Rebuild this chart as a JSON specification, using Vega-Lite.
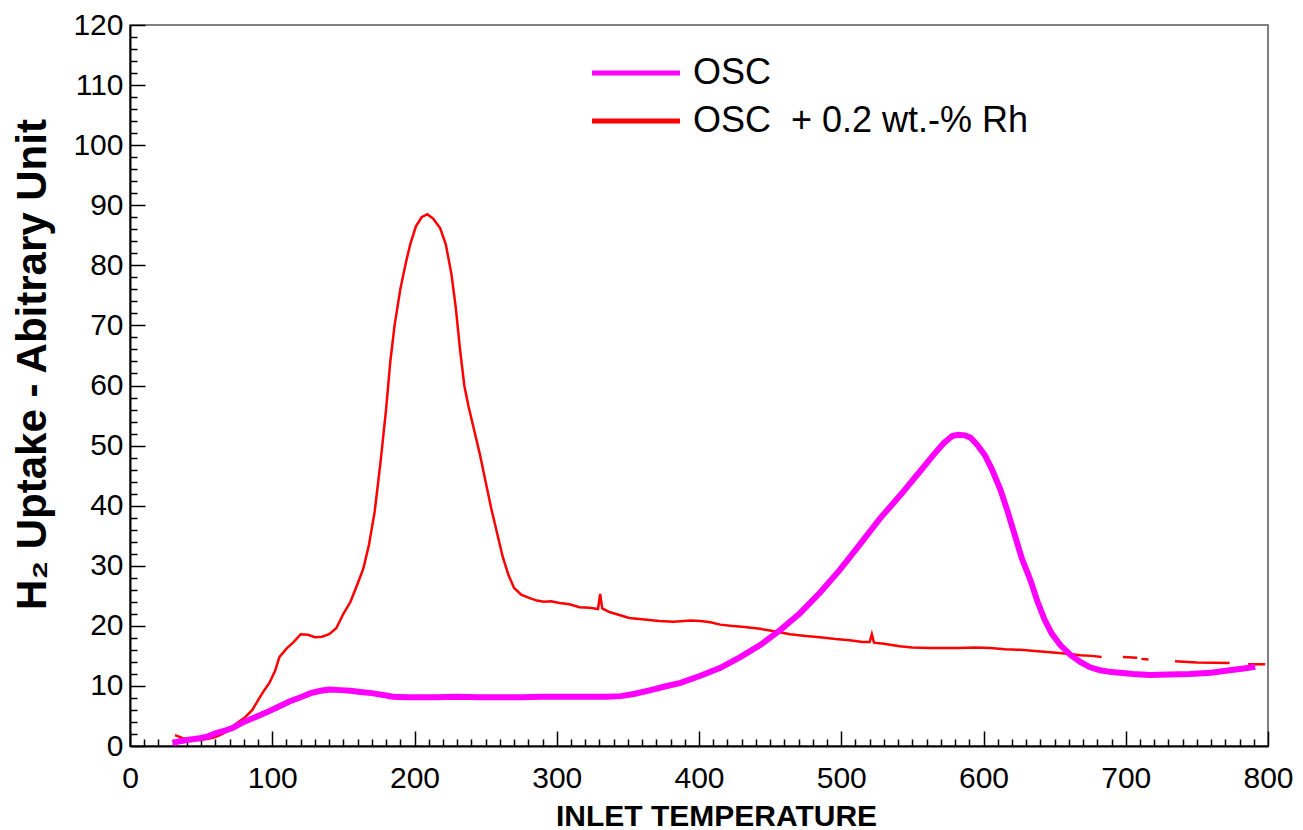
{
  "$schema": "https://vega.github.io/schema/vega-lite/v6.json",
  "autosize": "none",
  "width": 1138,
  "height": 721,
  "padding": {"left": 130, "top": 25, "right": 35, "bottom": 84},
  "background": "white",
  "config": {
    "font": "Liberation Sans",
    "view": {"stroke": "#808080", "strokeWidth": 2},
    "axis": {"grid": false, "zindex": 1}
  },
  "datasets": {
    "red": [
      {"t": 31.6, "v": 1.8, "seg": "a"}, {"t": 34, "v": 1.6, "seg": "a"}, {"t": 37, "v": 1.3, "seg": "a"}, {"t": 42, "v": 1.2, "seg": "a"},
      {"t": 49, "v": 1.0, "seg": "a"}, {"t": 55, "v": 1.2, "seg": "a"}, {"t": 60, "v": 1.5, "seg": "a"}, {"t": 65, "v": 2.0, "seg": "a"},
      {"t": 70, "v": 2.7, "seg": "a"}, {"t": 75, "v": 3.8, "seg": "a"}, {"t": 81, "v": 4.8, "seg": "a"}, {"t": 86, "v": 6.0, "seg": "a"},
      {"t": 91, "v": 8.0, "seg": "a"}, {"t": 95, "v": 9.5, "seg": "a"}, {"t": 98, "v": 10.5, "seg": "a"}, {"t": 102, "v": 12.5, "seg": "a"},
      {"t": 105, "v": 14.8, "seg": "a"}, {"t": 110, "v": 16.2, "seg": "a"}, {"t": 115, "v": 17.3, "seg": "a"}, {"t": 120, "v": 18.6, "seg": "a"},
      {"t": 125, "v": 18.5, "seg": "a"}, {"t": 130, "v": 18.1, "seg": "a"}, {"t": 135, "v": 18.2, "seg": "a"}, {"t": 140, "v": 18.6, "seg": "a"},
      {"t": 145, "v": 19.6, "seg": "a"}, {"t": 150, "v": 22.0, "seg": "a"}, {"t": 155, "v": 24.0, "seg": "a"}, {"t": 160, "v": 27.0, "seg": "a"},
      {"t": 164, "v": 29.5, "seg": "a"}, {"t": 168, "v": 33.5, "seg": "a"}, {"t": 172, "v": 39, "seg": "a"}, {"t": 176, "v": 47, "seg": "a"},
      {"t": 180, "v": 56, "seg": "a"}, {"t": 183, "v": 64, "seg": "a"}, {"t": 186, "v": 70, "seg": "a"}, {"t": 190, "v": 76, "seg": "a"},
      {"t": 194, "v": 80.5, "seg": "a"}, {"t": 197, "v": 83.5, "seg": "a"}, {"t": 201, "v": 86.5, "seg": "a"}, {"t": 205, "v": 88, "seg": "a"},
      {"t": 209, "v": 88.5, "seg": "a"}, {"t": 213, "v": 87.8, "seg": "a"}, {"t": 218, "v": 86.2, "seg": "a"}, {"t": 222, "v": 83.5, "seg": "a"},
      {"t": 226, "v": 78.5, "seg": "a"}, {"t": 229, "v": 73, "seg": "a"}, {"t": 232, "v": 66, "seg": "a"}, {"t": 235, "v": 60, "seg": "a"},
      {"t": 238, "v": 56.5, "seg": "a"}, {"t": 242, "v": 52.5, "seg": "a"}, {"t": 246, "v": 48.5, "seg": "a"}, {"t": 250, "v": 44, "seg": "a"},
      {"t": 254, "v": 39.5, "seg": "a"}, {"t": 258, "v": 35.5, "seg": "a"}, {"t": 262, "v": 31.5, "seg": "a"}, {"t": 266, "v": 28.5, "seg": "a"},
      {"t": 270, "v": 26.3, "seg": "a"}, {"t": 275, "v": 25.2, "seg": "a"}, {"t": 281, "v": 24.6, "seg": "a"}, {"t": 286, "v": 24.2, "seg": "a"},
      {"t": 291, "v": 24.0, "seg": "a"}, {"t": 296, "v": 24.1, "seg": "a"}, {"t": 302, "v": 23.8, "seg": "a"}, {"t": 309, "v": 23.6, "seg": "a"},
      {"t": 316, "v": 23.1, "seg": "a"}, {"t": 323, "v": 23.0, "seg": "a"}, {"t": 329, "v": 22.8, "seg": "a"}, {"t": 330.5, "v": 25.3, "seg": "a"},
      {"t": 332, "v": 22.9, "seg": "a"}, {"t": 337, "v": 22.3, "seg": "a"}, {"t": 344, "v": 21.8, "seg": "a"}, {"t": 351, "v": 21.3, "seg": "a"},
      {"t": 360, "v": 21.1, "seg": "a"}, {"t": 372, "v": 20.8, "seg": "a"}, {"t": 382, "v": 20.7, "seg": "a"}, {"t": 394, "v": 20.9, "seg": "a"},
      {"t": 401, "v": 20.8, "seg": "a"}, {"t": 408, "v": 20.6, "seg": "a"}, {"t": 415, "v": 20.2, "seg": "a"}, {"t": 422, "v": 20.0, "seg": "a"},
      {"t": 432, "v": 19.8, "seg": "a"}, {"t": 443, "v": 19.5, "seg": "a"}, {"t": 453, "v": 19.1, "seg": "a"}, {"t": 464, "v": 18.6, "seg": "a"},
      {"t": 475, "v": 18.3, "seg": "a"}, {"t": 485, "v": 18.1, "seg": "a"}, {"t": 496, "v": 17.8, "seg": "a"}, {"t": 506, "v": 17.6, "seg": "a"},
      {"t": 515, "v": 17.3, "seg": "a"}, {"t": 520, "v": 17.3, "seg": "a"}, {"t": 521.5, "v": 18.6, "seg": "a"}, {"t": 523, "v": 17.2, "seg": "a"},
      {"t": 530, "v": 17.0, "seg": "a"}, {"t": 541, "v": 16.6, "seg": "a"}, {"t": 550, "v": 16.4, "seg": "a"}, {"t": 562, "v": 16.3, "seg": "a"},
      {"t": 573, "v": 16.3, "seg": "a"}, {"t": 583, "v": 16.3, "seg": "a"}, {"t": 594, "v": 16.4, "seg": "a"}, {"t": 605, "v": 16.3, "seg": "a"},
      {"t": 615, "v": 16.1, "seg": "a"}, {"t": 626, "v": 16.0, "seg": "a"}, {"t": 636, "v": 15.8, "seg": "a"}, {"t": 647, "v": 15.6, "seg": "a"},
      {"t": 657, "v": 15.4, "seg": "a"}, {"t": 668, "v": 15.1, "seg": "a"}, {"t": 676, "v": 15.0, "seg": "a"}, {"t": 683, "v": 14.8, "seg": "a"},
      {"t": 698, "v": 14.8, "seg": "b"}, {"t": 708, "v": 14.7, "seg": "b"},
      {"t": 711, "v": 14.5, "seg": "c"}, {"t": 716, "v": 14.4, "seg": "c"},
      {"t": 734.6, "v": 14.1, "seg": "d"}, {"t": 750, "v": 13.9, "seg": "d"}, {"t": 773, "v": 13.8, "seg": "d"},
      {"t": 786, "v": 13.6, "seg": "e"}, {"t": 798, "v": 13.6, "seg": "e"}
    ],
    "mag": [
      {"t": 30, "v": 0.5}, {"t": 35, "v": 0.8}, {"t": 40, "v": 1.0}, {"t": 49, "v": 1.3}, {"t": 55, "v": 1.6},
      {"t": 60, "v": 2.1}, {"t": 66, "v": 2.5}, {"t": 72, "v": 3.0}, {"t": 80, "v": 4.0}, {"t": 88, "v": 4.8},
      {"t": 96, "v": 5.6}, {"t": 104, "v": 6.5}, {"t": 112, "v": 7.4}, {"t": 120, "v": 8.1}, {"t": 127, "v": 8.8},
      {"t": 134, "v": 9.2}, {"t": 140, "v": 9.4}, {"t": 148, "v": 9.3}, {"t": 155, "v": 9.2}, {"t": 162, "v": 9.0},
      {"t": 170, "v": 8.8}, {"t": 178, "v": 8.5}, {"t": 185, "v": 8.2}, {"t": 195, "v": 8.1}, {"t": 205, "v": 8.1},
      {"t": 215, "v": 8.1}, {"t": 230, "v": 8.2}, {"t": 245, "v": 8.1}, {"t": 260, "v": 8.1}, {"t": 275, "v": 8.1},
      {"t": 290, "v": 8.2}, {"t": 305, "v": 8.2}, {"t": 320, "v": 8.2}, {"t": 335, "v": 8.2}, {"t": 345, "v": 8.3},
      {"t": 355, "v": 8.7}, {"t": 366, "v": 9.3}, {"t": 376, "v": 9.9}, {"t": 387, "v": 10.5}, {"t": 401, "v": 11.7},
      {"t": 415, "v": 13.0}, {"t": 429, "v": 14.8}, {"t": 443, "v": 16.8}, {"t": 457, "v": 19.3}, {"t": 471, "v": 22.1},
      {"t": 485, "v": 25.5}, {"t": 499, "v": 29.3}, {"t": 513, "v": 33.5}, {"t": 527, "v": 37.8}, {"t": 541, "v": 41.6},
      {"t": 555, "v": 45.6}, {"t": 565, "v": 48.5}, {"t": 572, "v": 50.4}, {"t": 578, "v": 51.6}, {"t": 582, "v": 51.8},
      {"t": 587, "v": 51.7}, {"t": 591, "v": 51.3}, {"t": 596, "v": 50.0}, {"t": 601, "v": 48.4}, {"t": 606, "v": 46},
      {"t": 612, "v": 42.6}, {"t": 617, "v": 39}, {"t": 622, "v": 35.1}, {"t": 627, "v": 31.2}, {"t": 633, "v": 27.6},
      {"t": 638, "v": 24}, {"t": 643, "v": 21}, {"t": 648, "v": 18.7}, {"t": 654, "v": 16.8}, {"t": 661, "v": 15.2},
      {"t": 668, "v": 14.0}, {"t": 675, "v": 13.1}, {"t": 682, "v": 12.6}, {"t": 690, "v": 12.3}, {"t": 696, "v": 12.2},
      {"t": 705, "v": 12.0}, {"t": 717, "v": 11.8}, {"t": 730, "v": 11.9}, {"t": 745, "v": 12.0}, {"t": 760, "v": 12.2},
      {"t": 773, "v": 12.6}, {"t": 783, "v": 12.9}, {"t": 791, "v": 13.2}
    ]
  },
  "encoding": {
    "x": {
      "field": "t", "type": "quantitative",
      "scale": {"domain": [0, 800], "nice": false, "zero": false},
      "axis": {
        "title": "INLET TEMPERATURE",
        "titleFont": "Liberation Sans", "titleFontSize": 30, "titleFontWeight": "bold", "titleColor": "black",
        "titleX": 586, "titleY": 79, "titleBaseline": "alphabetic", "titleAlign": "center",
        "values": [0,10,20,30,40,50,60,70,80,90,100,110,120,130,140,150,160,170,180,190,200,210,220,230,240,250,260,270,280,290,300,310,320,330,340,350,360,370,380,390,400,410,420,430,440,450,460,470,480,490,500,510,520,530,540,550,560,570,580,590,600,610,620,630,640,650,660,670,680,690,700,710,720,730,740,750,760,770,780,790,800],
        "labelExpr": "datum.value % 100 === 0 ? datum.label : ''",
        "labelFont": "Liberation Sans", "labelFontSize": 30, "labelColor": "black",
        "labelOverlap": false, "labelFlush": false, "labelPadding": 32,
        "tickSize": {"condition": {"test": "datum.value % 100 === 0", "value": -15}, "value": -7},
        "tickColor": "black", "tickWidth": 1.5,
        "domainColor": "black", "domainWidth": 2
      }
    },
    "y": {
      "field": "v", "type": "quantitative",
      "scale": {"domain": [0, 120], "nice": false},
      "axis": {
        "title": "H₂ Uptake - Abitrary Unit",
        "titleFont": "Liberation Sans", "titleFontSize": 42, "titleFontWeight": "bold", "titleColor": "black",
        "titleX": -85, "titleY": 339, "titleBaseline": "alphabetic", "titleAlign": "center", "titleAngle": 270,
        "values": [0,2,4,6,8,10,12,14,16,18,20,22,24,26,28,30,32,34,36,38,40,42,44,46,48,50,52,54,56,58,60,62,64,66,68,70,72,74,76,78,80,82,84,86,88,90,92,94,96,98,100,102,104,106,108,110,112,114,116,118,120],
        "labelExpr": "datum.value % 10 === 0 ? datum.label : ''",
        "labelFont": "Liberation Sans", "labelFontSize": 30, "labelColor": "black",
        "labelOverlap": false, "labelFlush": false, "labelPadding": 22,
        "tickSize": {"condition": {"test": "datum.value % 10 === 0", "value": -15}, "value": -7},
        "tickColor": "black", "tickWidth": 1.5,
        "domainColor": "black", "domainWidth": 2
      }
    },
    "color": {
      "field": "series", "type": "nominal",
      "scale": {"domain": ["OSC", "OSC\u00a0 + 0.2 wt.-% Rh"], "range": ["#ff00ff", "#ff0000"]},
      "legend": {
        "title": null, "orient": "none", "legendX": 488, "legendY": 30,
        "symbolType": "M-4,0H4", "symbolSize": 484, "symbolStrokeWidth": 5, "symbolFillColor": "transparent",
        "labelFont": "Liberation Sans", "labelFontSize": 36, "labelColor": "black", "labelLimit": 600,
        "labelOffset": 39, "rowPadding": 12, "padding": 0
      }
    }
  },
  "layer": [
    {
      "data": {"name": "red"},
      "transform": [{"calculate": "'OSC\u00a0 + 0.2 wt.-% Rh'", "as": "series"}],
      "mark": {"type": "line", "strokeWidth": 2.5},
      "encoding": {"detail": {"field": "seg", "type": "nominal"}}
    },
    {
      "data": {"name": "mag"},
      "transform": [{"calculate": "'OSC'", "as": "series"}],
      "mark": {"type": "line", "strokeWidth": 6}
    }
  ]
}
